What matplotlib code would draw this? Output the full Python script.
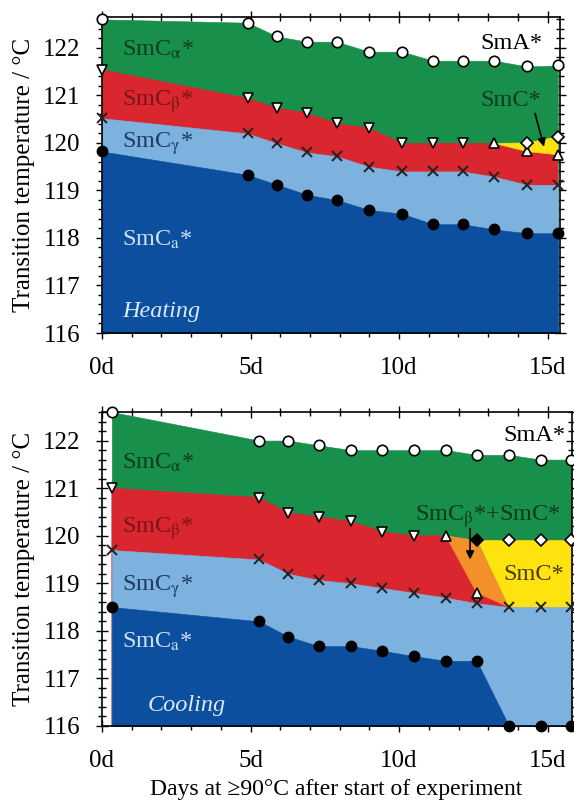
import matplotlib
matplotlib.use('Agg')
import matplotlib.pyplot as plt
from matplotlib.ticker import MultipleLocator, FuncFormatter

plt.rcParams['font.family'] = ['Liberation Serif', 'DejaVu Serif']
plt.rcParams['mathtext.fontset'] = 'stix'

# ---------------- Heating data ----------------
heat_days = [0.0, 4.9, 5.9, 6.9, 7.9, 9.0, 10.1, 11.15, 12.15, 13.2, 14.3, 15.35]
heat_smA = [122.6, 122.53, 122.24, 122.13, 122.13, 121.92, 121.92, 121.73, 121.73, 121.73, 121.61, 121.63]
heat_beta_days = [0.0, 4.9, 5.9, 6.9, 7.9, 9.0, 10.1, 11.15, 12.15]
heat_beta = [121.54, 120.94, 120.73, 120.63, 120.41, 120.31, 119.99, 119.99, 119.99]
heat_smc_bot_days = [13.2, 14.3, 15.35]
heat_smc_bot = [119.99, 119.82, 119.75]
heat_smc_top_days = [14.3, 15.35]
heat_smc_top = [120.0, 120.13]
heat_gamma = [120.52, 120.2, 119.99, 119.8, 119.72, 119.5, 119.4, 119.4, 119.4, 119.29, 119.12, 119.12]
heat_anti = [119.82, 119.33, 119.12, 118.91, 118.8, 118.59, 118.51, 118.29, 118.29, 118.18, 118.1, 118.1]

# ---------------- Cooling data ----------------
cool_days = [0.33, 5.29, 6.27, 7.29, 8.38, 9.44, 10.49, 11.57, 12.61, 13.7, 14.76, 15.78]
cool_smA = [122.6, 122.0, 122.0, 121.9, 121.8, 121.8, 121.8, 121.8, 121.7, 121.7, 121.6, 121.6]
cool_beta_days = [0.33, 5.29, 6.27, 7.29, 8.38, 9.44, 10.49]
cool_beta = [121.0, 120.8, 120.48, 120.4, 120.3, 120.08, 120.0]
cool_smc_on_days = [11.57, 12.61]
cool_smc_on = [120.0, 118.8]
cool_smc_top_days = [12.61, 13.7, 14.76, 15.78]
cool_smc_top = [119.9, 119.9, 119.9, 119.9]
cool_gamma = [119.7, 119.5, 119.2, 119.07, 119.0, 118.9, 118.8, 118.7, 118.58, 118.5, 118.5, 118.5]
cool_anti = [118.5, 118.2, 117.88, 117.68, 117.68, 117.58, 117.47, 117.37, 117.37, 116.0, 116.0, 116.0]

C_GREEN = '#188f4b'
C_RED = '#d9262f'
C_LBLUE = '#7db1de'
C_DBLUE = '#0b4f9e'
C_YELLOW = '#ffe30f'
C_ORANGE = '#f3902a'

YMIN = 116.0

fig = plt.figure(figsize=(5.74, 8.01), dpi=100)
ax1 = fig.add_axes([102/574, 1-333/801, 458/574, 316/801])
ax2 = fig.add_axes([102/574, 1-726/801, 470/574, 314/801])


def fill_poly(ax, xs, ys, color):
    ax.fill(xs, ys, color=color, lw=0.4, ec=color, zorder=3)


def style(ax, xmax, ymax):
    ax.set_xlim(0, xmax)
    ax.set_ylim(YMIN, ymax)
    ax.xaxis.set_major_locator(MultipleLocator(5))
    ax.xaxis.set_minor_locator(MultipleLocator(1))
    ax.xaxis.set_major_formatter(FuncFormatter(lambda v, p: f'{int(round(v))}d'))
    ax.yaxis.set_major_locator(MultipleLocator(1))
    ax.yaxis.set_minor_locator(MultipleLocator(0.2))
    ax.tick_params(which='both', direction='inout', top=True, right=True,
                   labelsize=18, width=1.0)
    ax.tick_params(which='major', length=9)
    ax.tick_params(which='minor', length=6)
    ax.tick_params(axis='x', pad=13)
    ax.tick_params(axis='y', pad=11)
    for s in ax.spines.values():
        s.set_zorder(4)
        s.set_linewidth(1.2)
    ax.set_ylabel('Transition temperature / °C', fontsize=18)


MK = dict(clip_on=False, zorder=5, linestyle='none')

# ---------------- Heating panel ----------------
ax = ax1
ax.fill_between(heat_days, heat_smA, YMIN, color=C_GREEN, lw=0.4, zorder=3)
red_x = heat_beta_days + heat_smc_bot_days
red_y = heat_beta + heat_smc_bot
fill_poly(ax, [red_x[0]] + red_x + [red_x[-1]], [YMIN] + red_y + [YMIN], C_RED)
fill_poly(ax, heat_smc_bot_days + heat_smc_top_days[::-1],
          heat_smc_bot + heat_smc_top[::-1], C_YELLOW)
ax.fill_between(heat_days, heat_gamma, YMIN, color=C_LBLUE, lw=0.4, zorder=3)
ax.fill_between(heat_days, heat_anti, YMIN, color=C_DBLUE, lw=0.4, zorder=3)

ax.plot(heat_days, heat_smA, marker='o', ms=7.5, mfc='white', mec='black', mew=1.2, **MK)
ax.plot(heat_beta_days, heat_beta, marker='v', ms=6.5, mfc='white', mec='black', mew=1.2, **MK)
ax.plot(heat_smc_bot_days, heat_smc_bot, marker='^', ms=6.5, mfc='white', mec='black', mew=1.2, **MK)
ax.plot(heat_smc_top_days, heat_smc_top, marker='D', ms=6.5, mfc='white', mec='black', mew=1.2, **MK)
ax.plot(heat_days, heat_gamma, marker='x', ms=7, mec='#222222', mew=1.4, **MK)
ax.plot(heat_days, heat_anti, marker='o', ms=7.5, mfc='black', mec='black', **MK)

style(ax, 15.42, 122.65)

TK = dict(fontsize=17.5, zorder=6, va='center', ha='left')
ax.text(0.67, 121.96, r'SmC$_{\mathrm{\alpha}}$*', color='#0b3d20', **TK)
ax.text(0.67, 120.87, r'SmC$_{\mathrm{\beta}}$*', color='#7a1416', **TK)
ax.text(0.67, 119.99, r'SmC$_{\mathrm{\gamma}}$*', color='#1d3a66', **TK)
ax.text(0.67, 117.96, r'SmC$_{\mathrm{a}}$*', color='#cfe0f2', **TK)
ax.text(0.67, 116.45, 'Heating', color='#dbe8f6', style='italic', **TK)
ax.text(12.75, 122.1, 'SmA*', color='black', **TK)
ax.text(12.75, 120.9, 'SmC*', color='#0c3a1f', **TK)
ax.annotate('', xy=(14.88, 119.92), xytext=(14.58, 120.62), zorder=6,
            arrowprops=dict(arrowstyle='-|>', color='black', lw=1.2,
                            mutation_scale=12, shrinkA=0, shrinkB=0))

# ---------------- Cooling panel ----------------
ax = ax2
ax.fill_between(cool_days, cool_smA, YMIN, color=C_GREEN, lw=0.4, zorder=3)
red_x = cool_beta_days + cool_smc_on_days + cool_days[9:]
red_y = cool_beta + cool_smc_on + cool_gamma[9:]
fill_poly(ax, [red_x[0]] + red_x + [red_x[-1]], [YMIN] + red_y + [YMIN], C_RED)
fill_poly(ax, [cool_smc_on_days[0], cool_smc_top_days[0], cool_days[9], cool_smc_on_days[1]],
          [cool_smc_on[0], cool_smc_top[0], cool_gamma[9], cool_smc_on[1]], C_ORANGE)
fill_poly(ax, cool_smc_top_days + cool_days[9:][::-1],
          cool_smc_top + cool_gamma[9:][::-1], C_YELLOW)
ax.fill_between(cool_days, cool_gamma, YMIN, color=C_LBLUE, lw=0.4, zorder=3)
ax.fill_between(cool_days, cool_anti, YMIN, color=C_DBLUE, lw=0.4, zorder=3)

ax.plot(cool_days, cool_smA, marker='o', ms=7.5, mfc='white', mec='black', mew=1.2, **MK)
ax.plot(cool_beta_days, cool_beta, marker='v', ms=6.5, mfc='white', mec='black', mew=1.2, **MK)
ax.plot(cool_smc_on_days, cool_smc_on, marker='^', ms=6.5, mfc='white', mec='black', mew=1.2, **MK)
ax.plot(cool_smc_top_days[:1], cool_smc_top[:1], marker='D', ms=6.5, mfc='black', mec='black', mew=1.2, **MK)
ax.plot(cool_smc_top_days[1:], cool_smc_top[1:], marker='D', ms=6.5, mfc='white', mec='black', mew=1.2, **MK)
ax.plot(cool_days, cool_gamma, marker='x', ms=7, mec='#222222', mew=1.4, **MK)
ax.plot(cool_days, cool_anti, marker='o', ms=7.5, mfc='black', mec='black', **MK)

style(ax, 15.82, 122.6)

ax.text(0.66, 121.54, r'SmC$_{\mathrm{\alpha}}$*', color='#0b3d20', **TK)
ax.text(0.66, 120.15, r'SmC$_{\mathrm{\beta}}$*', color='#7a1416', **TK)
ax.text(0.66, 118.94, r'SmC$_{\mathrm{\gamma}}$*', color='#1d3a66', **TK)
ax.text(0.66, 117.76, r'SmC$_{\mathrm{a}}$*', color='#cfe0f2', **TK)
ax.text(1.55, 116.44, 'Cooling', color='#dbe8f6', style='italic', **TK)
ax.text(13.5, 122.1, 'SmA*', color='black', **TK)
ax.text(10.55, 120.4, r'SmC$_{\mathrm{\beta}}$*+SmC*', color='#0c3a1f', **TK)
ax.text(13.5, 119.18, 'SmC*', color='#4a3c00', **TK)
ax.annotate('', xy=(12.39, 119.5), xytext=(12.39, 120.15), zorder=6,
            arrowprops=dict(arrowstyle='-|>', color='black', lw=1.2,
                            mutation_scale=12, shrinkA=0, shrinkB=0))

ax1.yaxis.set_label_coords(-0.146, 0.5)
ax2.yaxis.set_label_coords(-0.143, 0.5)

fig.text(0.585, 1 - 790/801, 'Days at ≥90°C after start of experiment',
         fontsize=17, ha='center', va='center')

fig.savefig('out.png', dpi=100)
